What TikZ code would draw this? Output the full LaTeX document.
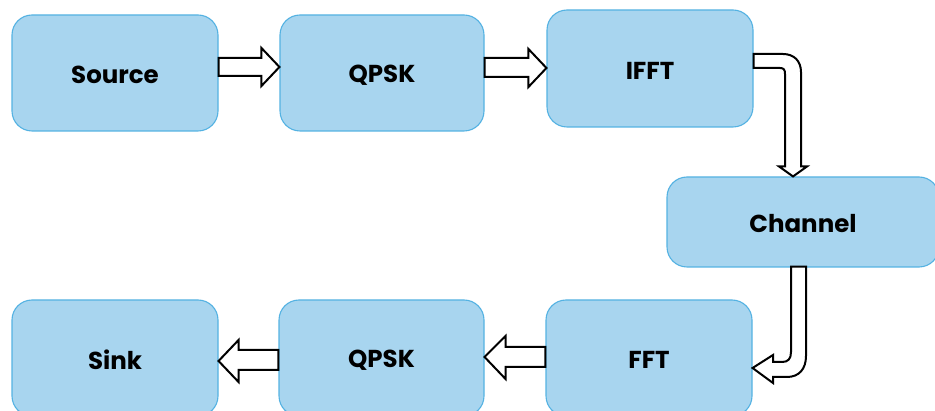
\documentclass[tikz,border=0pt]{standalone}
\usepackage{fontspec}
\setmainfont{Poppins}
\usetikzlibrary{calc}
\definecolor{boxfill}{RGB}{168,213,239}
\definecolor{boxline}{RGB}{84,178,226}
\newcommand{\lbl}[1]{\raisebox{-2pt}[\height][\depth]{#1}}
\begin{document}
\begin{tikzpicture}[x=1pt,y=-1pt,
  blk/.style={rounded corners=20pt, fill=boxfill, draw=boxline, line width=1.1pt,
    minimum width=206pt, minimum height=116pt, inner sep=0pt,
    font=\fontsize{24.5}{28}\selectfont\bfseries, text=black},
  barrow/.style={draw=black, fill=white, line width=2pt, line join=miter}]
\useasboundingbox (0,0) rectangle (935,411);
\clip (0,0) rectangle (935,411);
\node[blk] (src)  at (115,73)  {\lbl{Source}};
\node[blk, minimum width=204pt] (q1) at (382,73) {\lbl{QPSK}};
\node[blk, minimum height=117pt] (ifft) at (650,68.5) {\lbl{IFFT}};
\node[blk, minimum width=272pt, minimum height=90pt] (chan) at (803,222) {\lbl{Channel}};
\node[blk] (sink) at (115,358) {\lbl{Sink}};
\node[blk, minimum width=205pt] (q2) at (381.5,358) {\lbl{QPSK}};
\node[blk] (fft)  at (649,358) {\lbl{FFT}};
% Source -> QPSK
\draw[barrow] ($(src.east)+(0,-15)$) -- ($(q1.west)+(-18,-15)$) -- ($(q1.west)+(-18,-25)$)
  -- ($(q1.west)+(0,-6)$) -- ($(q1.west)+(-18,13)$) -- ($(q1.west)+(-18,3)$)
  -- ($(src.east)+(0,3)$) -- cycle;
% QPSK -> IFFT
\draw[barrow] ($(q1.east)+(0,-15)$) -- ($(ifft.west)+(-18,-10.5)$) -- ($(ifft.west)+(-18,-19.5)$)
  -- ($(ifft.west)+(0,-0.5)$) -- ($(ifft.west)+(-18,18.5)$) -- ($(ifft.west)+(-18,8.5)$)
  -- ($(q1.east)+(0,4)$) -- cycle;
% IFFT -> Channel (bent)
\draw[barrow] ($(ifft.east)+(0,-14.5)$) -- (783,54) .. controls (794,54) and (801,61) .. (801,72)
  -- ($(chan.north)+(-2,-10)$) -- ($(chan.north)+(4,-10)$) -- ($(chan.north)+(-10,0)$)
  -- ($(chan.north)+(-24,-10)$) -- ($(chan.north)+(-18,-10)$)
  -- (785,74) .. controls (785,70) and (784,68) .. (780,68) -- ($(ifft.east)+(0,-0.5)$) -- cycle;
% Channel -> FFT (bent)
\draw[barrow] ($(chan.south)+(-12,-1)$) -- ($(chan.south)+(3,-1)$) -- (806,356)
  .. controls (806,369) and (799,377) .. (787,377) -- (773,377) -- (773,383)
  -- ($(fft.east)+(0,10)$) -- (773,355) -- (773,362) -- (782,362)
  .. controls (788,362) and (791,359) .. (791,352) -- cycle;
% FFT -> QPSK
\draw[barrow] ($(fft.west)+(0,-11)$) -- ($(q2.east)+(21,-11)$) -- ($(q2.east)+(21,-22)$)
  -- ($(q2.east)+(0,-1)$) -- ($(q2.east)+(21,21)$) -- ($(q2.east)+(21,9)$)
  -- ($(fft.west)+(0,9)$) -- cycle;
% QPSK -> Sink
\draw[barrow] ($(q2.west)+(0,-8)$) -- ($(sink.east)+(20,-8)$) -- ($(sink.east)+(20,-18)$)
  -- ($(sink.east)+(0,3)$) -- ($(sink.east)+(20,24)$) -- ($(sink.east)+(20,12)$)
  -- ($(q2.west)+(0,12)$) -- cycle;
\end{tikzpicture}
\end{document}
